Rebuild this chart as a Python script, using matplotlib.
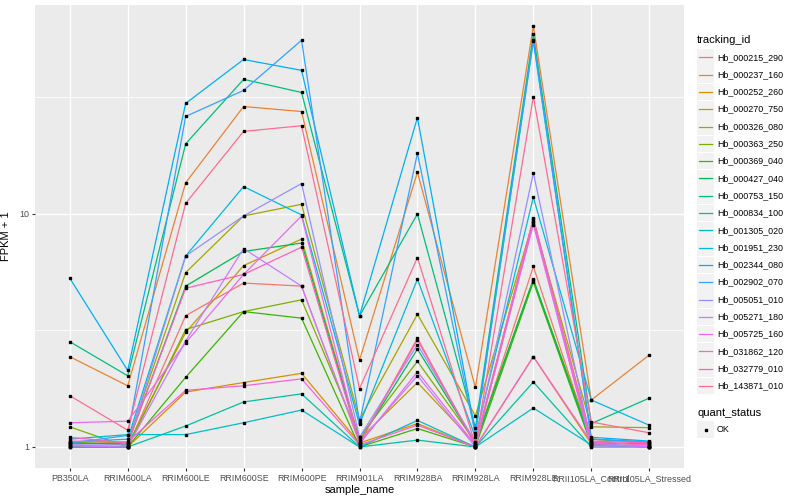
import numpy as np
import matplotlib
matplotlib.use('Agg')
import matplotlib.pyplot as plt
from matplotlib.patches import Rectangle
from matplotlib.lines import Line2D

plt.rcParams['font.family'] = ['Liberation Sans', 'DejaVu Sans']

samples = ['PB350LA', 'RRIM600LA', 'RRIM600LE', 'RRIM600SE', 'RRIM600PE',
           'RRIM901LA', 'RRIM928BA', 'RRIM928LA', 'RRIM928LE',
           'RRII105LA_Control', 'RRII105LA_Stressed']

tracking_ids = ['Hb_000215_290', 'Hb_000237_160', 'Hb_000252_260', 'Hb_000270_750',
                'Hb_000326_080', 'Hb_000363_250', 'Hb_000369_040', 'Hb_000427_040',
                'Hb_000753_150', 'Hb_000834_100', 'Hb_001305_020', 'Hb_001951_230',
                'Hb_002344_080', 'Hb_002902_070', 'Hb_005051_010', 'Hb_005271_180',
                'Hb_005725_160', 'Hb_031862_120', 'Hb_032779_010', 'Hb_143871_010']

# FPKM + 1, one list per tracking_id, in sample order
fpkm = [
    [1.02, 1.00, 3.66, 5.05, 4.90, 1.04, 2.93, 1.02, 5.95, 1.05, 1.02],
    [2.44, 1.83, 13.6, 28.9, 27.5, 2.36, 15.1, 1.80, 64.0, 1.59, 2.48],
    [1.00, 1.00, 1.72, 1.89, 2.07, 1.04, 1.26, 1.00, 2.44, 1.03, 1.00],
    [1.05, 1.02, 3.10, 6.00, 7.80, 1.08, 1.89, 1.03, 9.50, 1.08, 1.04],
    [1.03, 1.05, 5.60, 9.80, 11.0, 1.31, 3.71, 1.36, 9.30, 1.22, 1.21],
    [1.22, 1.00, 3.19, 3.81, 4.28, 1.10, 2.33, 1.05, 5.20, 1.08, 1.05],
    [1.00, 1.00, 1.99, 3.81, 3.57, 1.00, 1.20, 1.00, 5.10, 1.02, 1.00],
    [1.04, 1.03, 4.90, 6.90, 7.50, 1.06, 2.63, 1.04, 5.25, 1.04, 1.03],
    [2.83, 2.02, 20.0, 37.8, 33.2, 3.65, 10.0, 1.21, 59.0, 1.26, 1.62],
    [1.00, 1.00, 1.23, 1.56, 1.69, 1.00, 1.07, 1.00, 1.90, 1.00, 1.00],
    [1.08, 1.13, 1.13, 1.27, 1.44, 1.00, 1.30, 1.00, 1.47, 1.02, 1.00],
    [1.05, 1.08, 6.60, 13.1, 9.90, 1.25, 5.25, 1.10, 11.8, 1.59, 1.24],
    [5.30, 2.13, 29.8, 46.0, 41.3, 3.65, 25.9, 1.15, 56.0, 1.10, 1.06],
    [1.04, 1.12, 26.2, 33.9, 55.6, 1.27, 18.2, 1.13, 55.0, 1.08, 1.05],
    [1.02, 1.02, 6.60, 9.80, 13.5, 1.10, 2.75, 1.05, 15.0, 1.04, 1.00],
    [1.01, 1.00, 2.85, 7.10, 4.90, 1.05, 2.02, 1.00, 9.20, 1.00, 1.00],
    [1.27, 1.29, 2.80, 5.50, 9.80, 1.03, 2.10, 1.02, 9.00, 1.02, 1.01],
    [1.06, 1.05, 1.75, 1.83, 1.96, 1.02, 1.24, 1.00, 2.44, 1.05, 1.02],
    [1.10, 1.04, 4.80, 5.50, 7.20, 1.04, 2.88, 1.02, 9.60, 1.06, 1.04],
    [1.66, 1.18, 11.1, 22.6, 23.9, 1.78, 6.50, 1.02, 31.9, 1.28, 1.15],
]

colors = ['#F8766D', '#EA8331', '#D89000', '#C09B00', '#A3A500', '#7CAE00', '#39B600',
          '#00BB4E', '#00BF7D', '#00C1A3', '#00BFC4', '#00BAE0', '#00B0F6', '#35A2FF',
          '#9590FF', '#C77CFF', '#E76BF3', '#FA62DB', '#FF62BC', '#FF6C91']

W, H = 800, 500
fig = plt.figure(figsize=(8, 5), dpi=100)
ax = fig.add_axes([35 / W, 1 - 468 / H, (684 - 35) / W, (468 - 5) / H])
ax.set_facecolor('#EBEBEB')

x = np.arange(len(samples))
for vals, c in zip(fpkm, colors):
    ax.plot(x, vals, color=c, lw=0.9, zorder=3)
for vals in fpkm:
    ax.plot(x, vals, ls='none', marker='s', ms=2.1, color='black', zorder=4)

ax.set_yscale('log')
lo = np.log10(np.min(fpkm))
hi = np.log10(np.max(fpkm))
pad = 0.05 * (hi - lo)
ax.set_ylim(10 ** (lo - pad), 10 ** (hi + pad))
ax.set_xlim(-0.6, len(samples) - 0.4)

ax.set_yticks([1, 10])
ax.set_yticklabels(['1', '10'])
ax.yaxis.set_minor_locator(matplotlib.ticker.FixedLocator([10 ** 0.5, 10 ** 1.5]))
ax.yaxis.set_minor_formatter(matplotlib.ticker.NullFormatter())
ax.set_xticks(x)
ax.set_xticklabels(samples)

ax.grid(True, which='major', color='white', lw=1.0, zorder=1)
ax.grid(True, which='minor', axis='y', color='white', lw=0.55, zorder=1)
ax.tick_params(axis='both', which='major', length=2.2, width=0.8, color='#333333',
               labelsize=6.4, labelcolor='#4D4D4D', pad=2)
ax.tick_params(axis='y', which='minor', length=0)
for s in ax.spines.values():
    s.set_visible(False)

ax.set_xlabel('sample_name', fontsize=8, labelpad=1.5)
ax.set_ylabel('FPKM + 1', fontsize=8, labelpad=6)


def fx(px):
    return px / W


def fy(py):
    return 1 - py / H


# legend: tracking_id
fig.text(fx(697), fy(40), 'tracking_id', fontsize=8, va='center', ha='left')
step = 17.3
for i, (tid, c) in enumerate(zip(tracking_ids, colors)):
    yc = 57.3 + i * step
    fig.add_artist(Rectangle((fx(697), fy(yc + 8.3)), 17 / W, 16.6 / H,
                             transform=fig.transFigure, facecolor='#F2F2F2',
                             edgecolor='none'))
    fig.add_artist(Line2D([fx(699), fx(712)], [fy(yc), fy(yc)], color=c, lw=0.9,
                          transform=fig.transFigure))
    fig.text(fx(717), fy(yc), tid, fontsize=6.4, va='center', ha='left')

# legend: quant_status
fig.text(fx(697), fy(412.5), 'quant_status', fontsize=8, va='center', ha='left')
fig.add_artist(Rectangle((fx(697), fy(429.5 + 8.3)), 17 / W, 16.6 / H,
                         transform=fig.transFigure, facecolor='#F2F2F2', edgecolor='none'))
fig.add_artist(Line2D([fx(705.5)], [fy(429.5)], ls='none', marker='s', ms=2.1,
                      color='black', transform=fig.transFigure))
fig.text(fx(717), fy(429.5), 'OK', fontsize=6.4, va='center', ha='left')

fig.savefig('out.png', dpi=100, facecolor='white')
